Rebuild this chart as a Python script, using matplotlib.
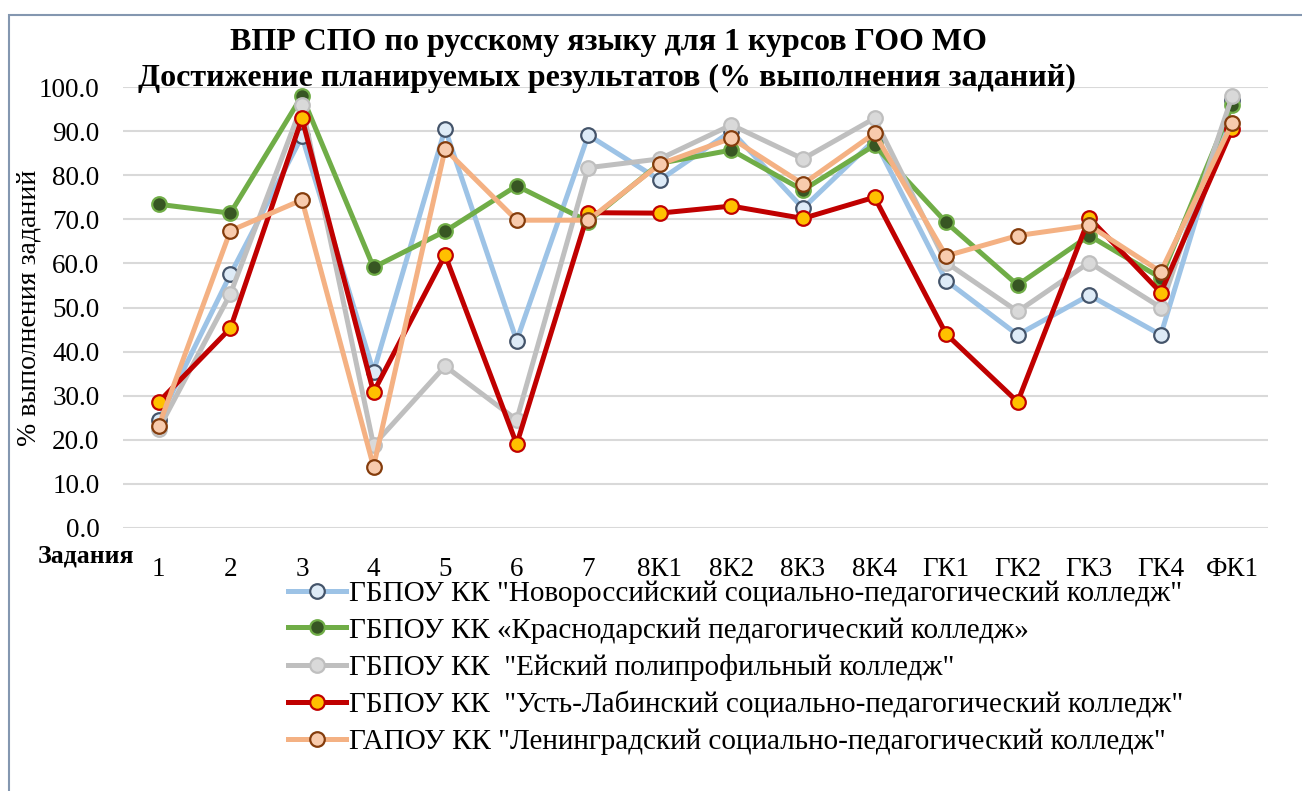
import matplotlib
matplotlib.use("Agg")
import matplotlib.pyplot as plt
from matplotlib.patches import Rectangle

# categories on the x axis
tasks = ["1", "2", "3", "4", "5", "6", "7", "8К1", "8К2", "8К3", "8К4",
         "ГК1", "ГК2", "ГК3", "ГК4", "ФК1"]

# values for each college (% выполнения)
novoross = [24.5, 57.5, 88.8, 35.4, 90.5, 42.5, 89.1, 78.9, 90.0, 72.5, 88.0,
            56.1, 43.8, 52.8, 43.8, 97.0]
krasnodar = [73.4, 71.4, 98.0, 59.1, 67.3, 77.6, 69.5, 82.7, 85.7, 76.6, 86.8,
             69.3, 55.1, 66.3, 56.7, 95.9]
eysk = [22.5, 53.1, 95.9, 18.8, 36.7, 24.5, 81.7, 83.7, 91.4, 83.7, 92.9,
        60.2, 49.1, 60.2, 50.0, 98.0]
ustlab = [28.6, 45.3, 92.9, 30.8, 61.9, 19.0, 71.5, 71.4, 73.0, 70.2, 75.0,
          44.0, 28.6, 70.3, 53.4, 90.5]
leningrad = [23.2, 67.4, 74.4, 13.9, 85.9, 69.8, 69.8, 82.5, 88.4, 78.0, 89.5,
             61.7, 66.3, 68.6, 58.1, 91.9]

names = ['ГБПОУ КК "Новороссийский социально-педагогический колледж"',
         'ГБПОУ КК «Краснодарский педагогический колледж»',
         'ГБПОУ КК  "Ейский полипрофильный колледж"',
         'ГБПОУ КК  "Усть-Лабинский социально-педагогический колледж"',
         'ГАПОУ КК "Ленинградский социально-педагогический колледж"']

plt.rcParams['font.family'] = ['Liberation Serif', 'DejaVu Serif']

fig = plt.figure(figsize=(13.02, 7.91), dpi=100)
ax = fig.add_axes([0.0945, 0.3325, 0.8795, 0.5575])

x = list(range(len(tasks)))

# line colour, marker face, marker edge
styles = [("#9DC3E6", "#DEEBF7", "#44546A"),
          ("#70AD47", "#375623", "#70AD47"),
          ("#BFBFBF", "#D9D9D9", "#BFBFBF"),
          ("#C00000", "#FFC000", "#C00000"),
          ("#F4B183", "#F8CBAD", "#843C0C")]
series = [novoross, krasnodar, eysk, ustlab, leningrad]

for vals, name, st in zip(series, names, styles):
    ax.plot(x, vals, color=st[0], lw=3.6, marker="o", markersize=10.5,
            markerfacecolor=st[1], markeredgecolor=st[2], markeredgewidth=1.6,
            label=name, zorder=3)

ax.set_xlim(-0.5, len(tasks) - 0.5)
ax.set_ylim(0, 100)
ax.set_yticks([i * 10 for i in range(11)])
ax.set_yticklabels(["%.1f" % (i * 10) for i in range(11)], fontsize=19.5)
ax.set_xticks(x)
ax.set_xticklabels(tasks, fontsize=19.5)
ax.tick_params(axis="both", length=0)
ax.tick_params(axis="x", pad=21)
ax.tick_params(axis="y", pad=17)
ax.grid(axis="y", color="#D9D9D9", lw=1.5)
ax.set_axisbelow(True)
for s in ax.spines.values():
    s.set_visible(False)

ax.set_ylabel("% выполнения заданий", fontsize=20)
ax.yaxis.set_label_coords(-0.071, 0.5)

fig.text(0.467, 0.946, "ВПР СПО по русскому языку для 1 курсов ГОО МО",
         ha="center", va="center", fontsize=23, fontweight="bold")
fig.text(0.466, 0.901, "Достижение планируемых результатов (% выполнения заданий)",
         ha="center", va="center", fontsize=23, fontweight="bold")
fig.text(0.066, 0.297, "Задания", ha="center", va="center", fontsize=18.5,
         fontweight="bold")

ax.legend(loc="upper left", bbox_to_anchor=(0.212, 0.281),
          bbox_transform=fig.transFigure, frameon=False, fontsize=21,
          handlelength=2.0, handletextpad=0.1, labelspacing=0.35,
          borderaxespad=0)

# outer chart border
fig.patches.append(Rectangle((0.007, -0.05), 1.1, 1.031, transform=fig.transFigure,
                             fill=False, edgecolor="#8497B0", lw=1.5))

plt.savefig("out.png", dpi=100)
